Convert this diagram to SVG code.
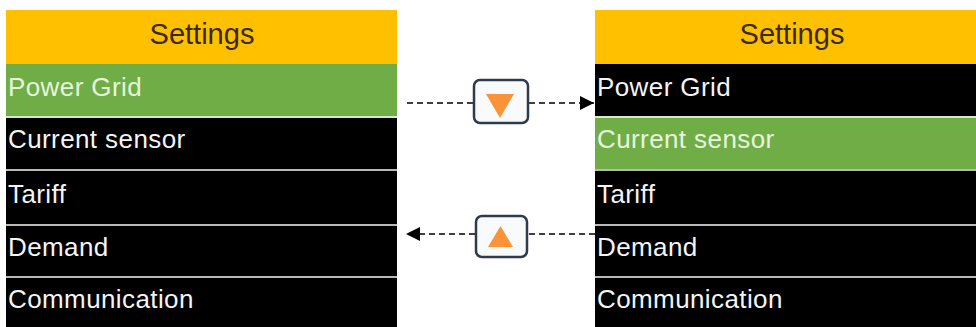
<svg xmlns="http://www.w3.org/2000/svg" width="976" height="327" viewBox="0 0 976 327">
<defs>
<style>
.hdr{fill:#FFC000}
.sel{fill:#70AD47}
.row{fill:#000}
.sep{stroke:#b8b8b8;stroke-width:2}
.title{font-family:"Liberation Sans",Arial,sans-serif;font-size:29px;fill:#3b2a12;text-anchor:middle}
.item{font-family:"Liberation Sans",Arial,sans-serif;font-size:26px;fill:#f4f4f4;letter-spacing:0.4px}
.item.on{fill:#e6f5dc}
.btn{fill:#f8fafc;stroke:#2f3b4c;stroke-width:2.5}
.tri{fill:#FB9338}
.dash{stroke:#000;stroke-width:1.5;stroke-dasharray:6 4;fill:none}
</style>
<marker id="ah" viewBox="0 0 10 10" refX="10" refY="5" markerWidth="16" markerHeight="14" markerUnits="userSpaceOnUse" orient="auto">
<path d="M0,0 L10,5 L0,10 Z" fill="#000"/>
</marker>
</defs>
<rect width="976" height="327" fill="#fff"/>

<g id="screen-left">
<rect class="hdr" x="6" y="10" width="391" height="54"/>
<text class="title" x="202" y="44">Settings</text>
<rect class="sel" x="6" y="64" width="391" height="53"/>
<rect class="row" x="6" y="117" width="391" height="210"/>
<line x1="6" y1="117" x2="397" y2="117" stroke="#d8e8c8" stroke-width="2"/>
<line class="sep" x1="6" y1="170" x2="397" y2="170"/>
<line class="sep" x1="6" y1="225" x2="397" y2="225"/>
<line class="sep" x1="6" y1="277" x2="397" y2="277"/>
<text class="item on" x="8" y="96">Power Grid</text>
<text class="item" x="8" y="148">Current sensor</text>
<text class="item" x="8" y="203">Tariff</text>
<text class="item" x="8" y="256">Demand</text>
<text class="item" x="8" y="308">Communication</text>
</g>

<g id="screen-right">
<rect class="hdr" x="595" y="10" width="381" height="54"/>
<text class="title" x="792" y="44">Settings</text>
<rect class="row" x="595" y="64" width="381" height="263"/>
<rect class="sel" x="595" y="117" width="381" height="53"/>
<line x1="595" y1="117" x2="976" y2="117" stroke="#d8e8c8" stroke-width="2"/>
<line class="sep" x1="595" y1="170" x2="976" y2="170"/>
<line class="sep" x1="595" y1="225" x2="976" y2="225"/>
<line class="sep" x1="595" y1="277" x2="976" y2="277"/>
<text class="item" x="597" y="96">Power Grid</text>
<text class="item on" x="597" y="148">Current sensor</text>
<text class="item" x="597" y="203">Tariff</text>
<text class="item" x="597" y="256">Demand</text>
<text class="item" x="597" y="308">Communication</text>
</g>

<g id="connectors">
<line class="dash" x1="407" y1="103" x2="473" y2="103"/>
<line class="dash" x1="529" y1="103" x2="594" y2="103" marker-end="url(#ah)"/>
<line class="dash" x1="595" y1="234" x2="527" y2="234"/>
<line class="dash" x1="475" y1="234" x2="406" y2="234" marker-end="url(#ah)"/>
</g>

<g id="btn-down">
<rect class="btn" x="474" y="80" width="54" height="43" rx="6"/>
<polygon class="tri" points="486,94 514,94 500,118"/>
</g>

<g id="btn-up">
<rect class="btn" x="476" y="216" width="51" height="41" rx="6"/>
<polygon class="tri" points="488,247 513,247 500.5,226"/>
</g>
</svg>
